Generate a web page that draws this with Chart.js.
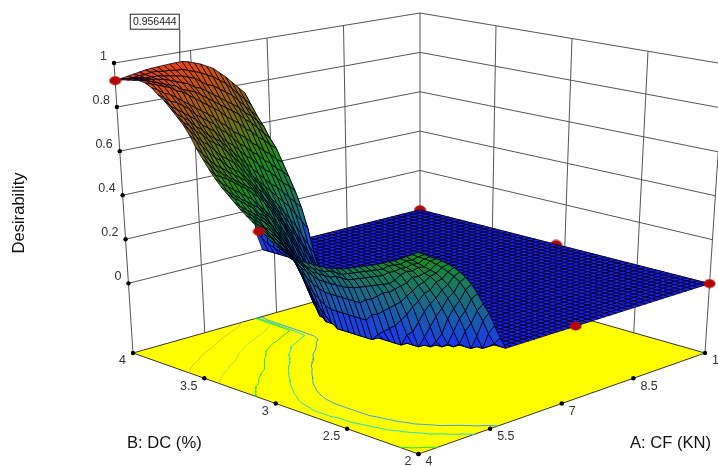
<!DOCTYPE html>
<html>
<head>
<meta charset="utf-8">
<style>
  html, body { margin: 0; padding: 0; background: #fff; overflow: hidden; }
  canvas { display: block; }
</style>
<script src="https://cdn.jsdelivr.net/npm/chart.js@4/dist/chart.umd.min.js"></script>
</head>
<body>
<canvas id="chart" width="718" height="467"></canvas>
<script>
// tick labels
const aTicks = [4, 5.5, 7, 8.5, 10];
const bTicks = [2, 2.5, 3, 3.5, 4];
const zTicks = [0, 0.2, 0.4, 0.6, 0.8, 1];
const aTitle = "A: CF (KN)";
const bTitle = "B: DC (%)";
const zTitle = "Desirability";

// design points (red)
const designA = [10, 10, 4, 6.7, 10, 7.24];
const designB = [4, 3.06, 4, 4, 2, 2];
const designZ = [0, 0, 0.92, 0.09, 0, 0];
const designBehind = 2; // first two sit half under the plane

// optimum flag
const peakA = 5.28;
const peakB = 4;
const peakZ = 0.956444;

// desirability, one row per B step (2 -> 4, 51 rows),
// each row runs along A from 4 in steps of 0.12. Anything not listed is 0.
const gridCells = 50;
const desirabilityRows = [
  [.50,.485,.47,.455,.44,.42,.40,.375,.345,.31,.265,.215,.17,.11,.05],
  [.485,.47,.455,.44,.42,.40,.375,.35,.32,.28,.235,.18,.13,.07,.02],
  [.47,.45,.43,.41,.39,.37,.34,.31,.27,.23,.18,.12,.06],
  [.455,.44,.42,.40,.37,.35,.32,.28,.24,.19,.14,.08],
  [.44,.42,.40,.38,.35,.32,.28,.24,.19,.14,.08,.02],
  [.43,.41,.39,.37,.34,.30,.26,.21,.15,.07,.02],
  [.418,.40,.37,.35,.31,.27,.22,.17,.10,.03],
  [.405,.38,.36,.32,.29,.24,.19,.12,.05],
  [.395,.37,.34,.30,.27,.21,.15,.07],
  [.385,.36,.33,.29,.25,.19,.12,.05],
  [.375,.35,.32,.28,.24,.17,.09],
  [.365,.34,.31,.27,.22,.15,.07],
  [.355,.33,.30,.26,.20,.13,.05],
  [.345,.32,.29,.25,.19,.12,.03],
  [.34,.31,.28,.24,.17,.09],
  [.335,.31,.28,.235,.17,.09],
  [.332,.31,.28,.23,.17,.09],
  [.33,.30,.27,.23,.17,.09],
  [.33,.30,.27,.23,.17,.09],
  [.33,.30,.27,.23,.17,.09],
  [.33,.30,.27,.23,.17,.09],
  [.335,.31,.28,.24,.18,.10,.02],
  [.34,.32,.29,.25,.19,.12,.04],
  [.35,.33,.30,.26,.21,.14,.07],
  [.365,.34,.31,.28,.23,.17,.10,.03],
  [.38,.36,.33,.30,.27,.21,.15,.07],
  [.40,.38,.35,.32,.29,.25,.20,.13,.05],
  [.42,.40,.37,.35,.32,.28,.23,.17,.10,.03],
  [.44,.42,.40,.37,.35,.31,.27,.22,.16,.09,.02],
  [.46,.44,.42,.39,.37,.34,.30,.26,.21,.15,.09,.02],
  [.48,.46,.44,.42,.40,.37,.34,.30,.26,.20,.14,.08,.01],
  [.505,.48,.46,.44,.42,.40,.37,.33,.29,.25,.19,.14,.08,.02],
  [.53,.51,.49,.47,.45,.42,.40,.36,.33,.29,.24,.19,.13,.07,.01],
  [.555,.53,.51,.49,.47,.45,.43,.40,.37,.33,.29,.24,.19,.14,.08,.03],
  [.585,.56,.54,.52,.50,.48,.46,.43,.40,.37,.33,.29,.25,.20,.15,.09,.04],
  [.62,.59,.575,.56,.54,.52,.50,.475,.45,.42,.38,.34,.30,.25,.20,.14,.08,.03],
  [.66,.63,.60,.58,.56,.54,.52,.50,.48,.45,.42,.38,.34,.30,.25,.20,.15,.10,.05,.01],
  [.70,.67,.64,.61,.59,.57,.55,.53,.51,.48,.45,.41,.38,.34,.29,.25,.21,.16,.11,.06,.01],
  [.75,.72,.69,.66,.63,.61,.58,.56,.54,.51,.48,.45,.42,.38,.34,.30,.26,.21,.16,.11,.06],
  [.79,.76,.73,.70,.68,.65,.62,.60,.58,.55,.52,.49,.46,.42,.38,.35,.31,.27,.23,.18,.13,.08],
  [.82,.79,.77,.74,.72,.69,.67,.65,.62,.59,.56,.53,.49,.46,.43,.40,.37,.34,.31,.27,.23,.19],
  [.85,.82,.80,.78,.75,.73,.70,.68,.66,.63,.60,.57,.54,.51,.48,.45,.42,.40,.37,.34,.31,.28],
  [.88,.85,.83,.81,.79,.77,.74,.72,.70,.67,.64,.62,.59,.56,.54,.51,.48,.46,.43,.40,.38,.35],
  [.90,.88,.86,.85,.83,.81,.78,.76,.74,.72,.69,.67,.64,.61,.59,.56,.54,.51,.49,.46,.44,.41],
  [.925,.91,.89,.88,.86,.84,.82,.80,.78,.76,.74,.71,.69,.66,.64,.62,.59,.57,.54,.52,.49,.47,.01],
  [.94,.93,.92,.91,.90,.88,.87,.85,.83,.81,.79,.77,.75,.72,.70,.68,.65,.63,.60,.58,.55,.53,.02],
  [.945,.94,.93,.92,.91,.90,.89,.87,.86,.85,.83,.81,.79,.77,.75,.73,.71,.68,.66,.63,.60,.57,.03],
  [.94,.94,.935,.93,.925,.92,.91,.90,.89,.88,.86,.85,.83,.81,.79,.77,.75,.73,.70,.68,.65,.62,.04],
  [.935,.935,.935,.93,.93,.93,.925,.92,.915,.91,.90,.89,.87,.85,.84,.82,.80,.78,.75,.72,.69,.66,.05],
  [.93,.93,.93,.935,.935,.94,.94,.935,.935,.93,.93,.92,.91,.90,.885,.87,.85,.83,.80,.77,.74,.71,.07],
  [.92,.925,.93,.935,.94,.945,.948,.95,.952,.954,.955,.956,.95,.94,.93,.915,.90,.875,.85,.82,.79,.76,.09]
];

// contour levels on the floor and their colours
const contourLevels = [0.06, 0.28, 0.45, 0.62, 0.82];
const contourColors = ["#3aa0e8", "#28dcc8", "#28e028", "#a8e850", "#f0b848"];

/* ================= BOX -> PICTURE ================= */
// corners of the plot box on the page, floor and z=1
const zFloor = -0.316;
const boxFloor = { o: [418.5, 454], a: [705, 353], b: [133, 353], c: [420, 272] };
const boxTop = { o: [418, 129], a: [724, 64], b: [114, 63], c: [420, 13] };

function project(A, B, Z) {
    const u = (A - 4) / 6, v = (B - 2) / 2, w = (Z - zFloor) / (1 - zFloor);
    const mix = (box, n) =>
        box.o[n] * (1 - u) * (1 - v) + box.a[n] * u * (1 - v) + box.b[n] * (1 - u) * v + box.c[n] * u * v;
    return {
        x: mix(boxFloor, 0) * (1 - w) + mix(boxTop, 0) * w,
        y: mix(boxFloor, 1) * (1 - w) + mix(boxTop, 1) * w
    };
}

function gridZ(i, k) {
    return desirabilityRows[i][k] || 0;
}
const gridA = k => 4 + 6 * k / gridCells;
const gridB = i => 2 + 2 * i / gridCells;

// blue -> teal -> green -> olive -> red
function surfaceColor(z) {
    if (z <= 0.5) {
        const g = Math.pow(2 * z, 0.5) * 115, b = Math.pow(1 - 2 * z, 1.3) * 215;
        return `rgb(25,${Math.round(30 + g)},${Math.round(30 + b)})`;
    }
    const r = (2 * z - 1) * 235, g = (2 - 2 * z) * 115 + (z - 0.5) * 60;
    return `rgb(${Math.round(25 + r)},${Math.round(30 + g)},15)`;
}

/* ================= DATASETS (paint order, back first) ================= */
const painted = [];

function addLine(points, color, width) {
    painted.push({ data: points, borderColor: color, borderWidth: width === undefined ? 1 : width,
        pointRadius: 0, fill: false, tension: 0 });
}
function addPolygon(points, fillColor, lineColor, width) {
    painted.push({ data: points.concat([points[0]]), backgroundColor: fillColor, borderColor: lineColor,
        borderWidth: width, pointRadius: 0, fill: "shape", tension: 0 });
}

// walls
const wallColor = "#555";
zTicks.forEach(z => {
    addLine([project(4, 4, z), project(10, 4, z), project(10, 2, z)], wallColor);
});
aTicks.forEach(a => addLine([project(a, 4, zFloor), project(a, 4, 1)], wallColor));
bTicks.slice(0, 4).forEach(b => addLine([project(10, b, zFloor), project(10, b, 1)], wallColor));

// floor
addPolygon([project(4, 2, zFloor), project(10, 2, zFloor), project(10, 4, zFloor), project(4, 4, zFloor)],
    "#ffff00", "#333", 1);

// floor contours, marching squares over the same grid
contourLevels.forEach((level, n) => {
    const segs = [];
    for (let i = 0; i < gridCells; i++) {
        for (let k = 0; k < gridCells; k++) {
            const corners = [[i, k], [i, k + 1], [i + 1, k + 1], [i + 1, k]];
            const hits = [];
            for (let e = 0; e < 4; e++) {
                const p = corners[e], q = corners[(e + 1) % 4];
                const zp = gridZ(p[0], p[1]), zq = gridZ(q[0], q[1]);
                if ((zp < level) !== (zq < level)) {
                    const t = (level - zp) / (zq - zp);
                    const ii = p[0] + (q[0] - p[0]) * t, kk = p[1] + (q[1] - p[1]) * t;
                    hits.push(project(gridA(kk), gridB(ii), zFloor));
                }
            }
            for (let h = 0; h + 1 < hits.length; h += 2) {
                segs.push(hits[h], hits[h + 1], { x: hits[h].x, y: null });
            }
        }
    }
    addLine(segs, contourColors[n]);
});

// ellipse marker for the design points
const marker = document.createElement("canvas");
marker.width = 13; marker.height = 10;
const mctx = marker.getContext("2d");
mctx.fillStyle = "#b40808";
mctx.beginPath();
mctx.ellipse(6.5, 5, 6, 4.4, 0, 0, Math.PI * 2);
mctx.fill();

function addDesign(from, to) {
    const pts = [];
    for (let n = from; n < to; n++) pts.push(project(designA[n], designB[n], designZ[n]));
    painted.push({ data: pts, showLine: false, pointStyle: marker, pointRadius: 6, fill: false });
}
addDesign(0, designBehind);

// surface, far corner first so nearer cells paint over
for (let k = gridCells - 1; k >= 0; k--) {
    for (let i = gridCells - 1; i >= 0; i--) {
        const zs = [gridZ(i, k), gridZ(i, k + 1), gridZ(i + 1, k + 1), gridZ(i + 1, k)];
        const lo = Math.min(...zs), hi = Math.max(...zs);
        const zCell = hi - lo > 0.15 ? lo : (zs[0] + zs[1] + zs[2] + zs[3]) / 4;
        addPolygon([
            project(gridA(k), gridB(i), zs[0]),
            project(gridA(k + 1), gridB(i), zs[1]),
            project(gridA(k + 1), gridB(i + 1), zs[2]),
            project(gridA(k), gridB(i + 1), zs[3])
        ], surfaceColor(zCell), "rgba(0,0,25,0.9)", 0.9);
    }
}

addDesign(designBehind, designA.length);

// optimum flag line
const peakPoint = project(peakA, peakB, peakZ);
addLine([peakPoint, { x: peakPoint.x, y: peakPoint.y - 32 }], "#333");

// axis tick dots
const tickDots = [];
zTicks.forEach(z => tickDots.push(project(4, 4, z)));
aTicks.forEach(a => tickDots.push(project(a, 2, zFloor)));
bTicks.forEach(b => tickDots.push(project(4, b, zFloor)));
painted.push({ data: tickDots, showLine: false, pointRadius: 2.2, backgroundColor: "#000", borderWidth: 0, fill: false });

/* ================= TEXT ================= */
const textPlugin = {
    id: "plotText",
    afterDatasetsDraw(chart) {
        const ctx = chart.ctx, xs = chart.scales.x, ys = chart.scales.y;
        const font = '"Liberation Sans", Arial, sans-serif';
        const put = (p, text, align, dx, dy) => {
            ctx.textAlign = align;
            ctx.fillText(text, xs.getPixelForValue(p.x) + dx, ys.getPixelForValue(p.y) + dy);
        };
        ctx.save();
        ctx.textBaseline = "middle";
        ctx.fillStyle = "#333";
        ctx.font = "12.5px " + font;
        zTicks.forEach(z => put(project(4, 4, z), String(z), "right", -7, -6.5));
        aTicks.forEach(a => put(project(a, 2, zFloor), String(a), "left", 7, 8));
        bTicks.forEach(b => put(project(4, b, zFloor), String(b), "right", -7, 8));

        ctx.fillStyle = "#111";
        ctx.font = "16.6px " + font;
        ctx.textAlign = "left";
        ctx.fillText(bTitle, 127, 443);
        ctx.fillText(aTitle, 630, 443);
        ctx.save();
        ctx.translate(19, 213);
        ctx.rotate(-Math.PI / 2);
        ctx.textAlign = "center";
        ctx.fillText(zTitle, 0, 0);
        ctx.restore();

        // value flag sits left of its line
        const px = xs.getPixelForValue(peakPoint.x), py = ys.getPixelForValue(peakPoint.y);
        ctx.fillStyle = "#fff";
        ctx.fillRect(px - 49.5, py - 47.5, 49, 15);
        ctx.strokeStyle = "#222";
        ctx.lineWidth = 1;
        ctx.strokeRect(px - 49.5, py - 47.5, 49, 15);
        ctx.fillStyle = "#222";
        ctx.font = "10.5px " + font;
        ctx.textAlign = "center";
        ctx.fillText(String(peakZ), px - 25, py - 39.5);
        ctx.restore();
    }
};

/* ================= CHART ================= */
new Chart(document.getElementById("chart"), {
    type: "line",
    data: { datasets: painted.reverse() }, // chart paints the last dataset first
    plugins: [textPlugin],
    options: {
        responsive: false,
        animation: false,
        events: [],
        layout: { padding: 0, autoPadding: false },
        plugins: {
            legend: { display: false },
            tooltip: { enabled: false },
            filler: { drawTime: "beforeDatasetDraw" }
        },
        scales: {
            x: { type: "linear", min: 0, max: 718, display: false },
            y: { type: "linear", min: 0, max: 467, reverse: true, display: false }
        }
    }
});
</script>
</body>
</html>
